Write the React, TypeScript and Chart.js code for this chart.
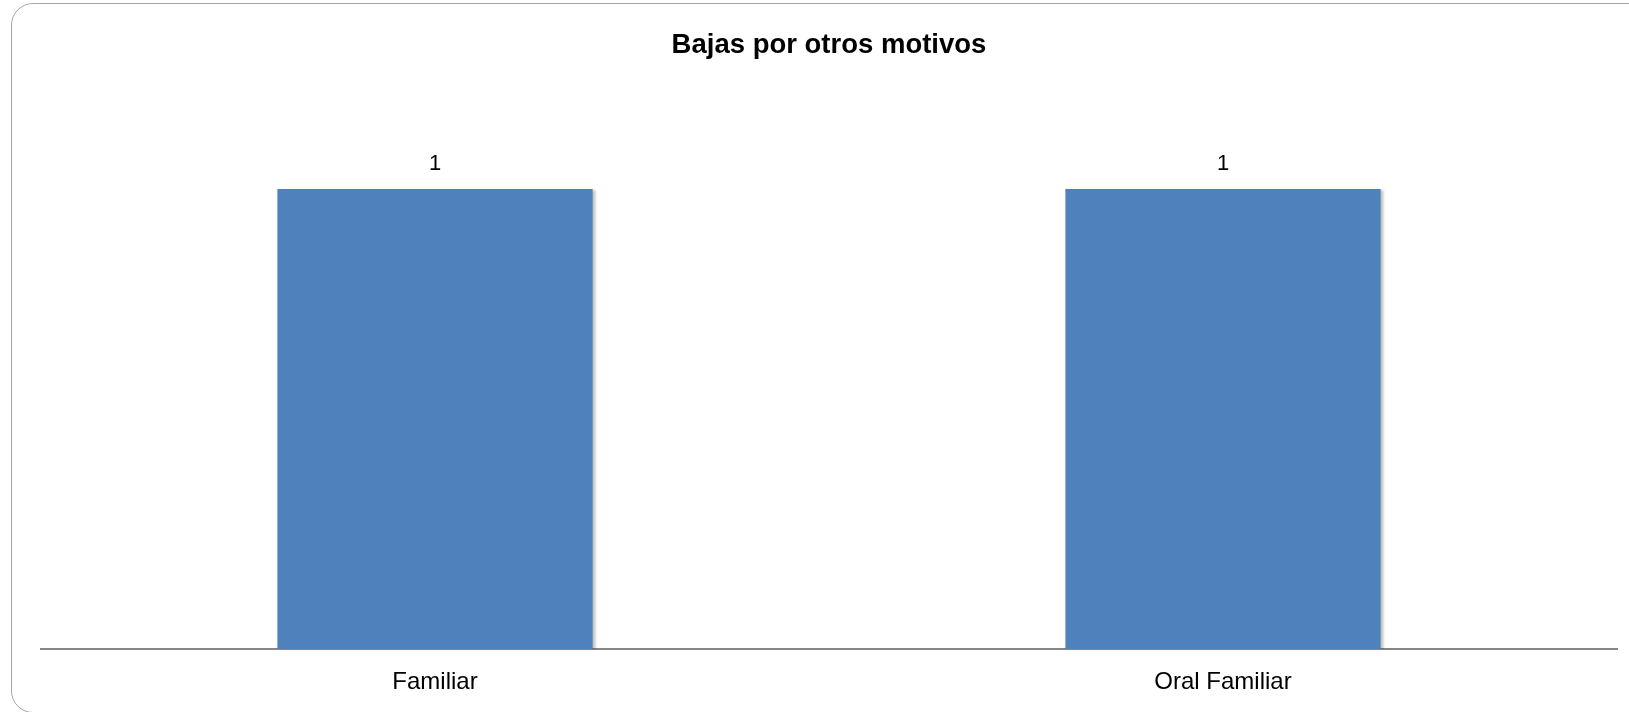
import React, { useEffect, useRef } from "react";
import { Chart, registerables } from "chart.js";

Chart.register(...registerables);

const chartTitle = "Bajas por otros motivos";
const categories = ["Familiar", "Oral Familiar"];
const values = [1, 1];
const yMin = 0;
const yMax = 1;

const FONT = "'Liberation Sans', Arial, sans-serif";

const overlayPlugin = {
  id: "overlay",
  beforeDatasetsDraw(chart: any) {
    const ctx = chart.ctx;
    ctx.save();
    ctx.shadowColor = "rgba(0,0,0,0.28)";
    ctx.shadowBlur = 3;
    ctx.shadowOffsetX = 2;
    ctx.shadowOffsetY = 1;
  },
  afterDatasetsDraw(chart: any) {
    const ctx = chart.ctx;
    ctx.restore();
    ctx.save();
    ctx.fillStyle = "#000000";
    ctx.font = `22px ${FONT}`;
    ctx.textAlign = "center";
    ctx.textBaseline = "alphabetic";
    const meta = chart.getDatasetMeta(0);
    meta.data.forEach((bar: any, i: number) => {
      ctx.fillText(String(values[i]), bar.x, bar.y - 19);
    });
    ctx.restore();
  },
  afterDraw(chart: any) {
    const ctx = chart.ctx;
    const area = chart.chartArea;
    ctx.save();
    ctx.fillStyle = "#000000";
    ctx.font = `bold 27.5px ${FONT}`;
    ctx.textAlign = "center";
    ctx.textBaseline = "alphabetic";
    ctx.fillText(chartTitle, (area.left + area.right) / 2, 53);
    ctx.restore();
  },
};

export default function App() {
  const canvasRef = useRef<HTMLCanvasElement | null>(null);

  useEffect(() => {
    const canvas = canvasRef.current;
    if (!canvas) return;
    const chart = new Chart(canvas, {
      type: "bar",
      data: {
        labels: categories,
        datasets: [
          {
            data: values,
            backgroundColor: "#4F81BD",
            borderColor: "#4F81BD",
            borderWidth: 0,
            barPercentage: 0.4,
            categoryPercentage: 1,
          },
        ],
      },
      options: {
        animation: false,
        responsive: false,
        maintainAspectRatio: false,
        devicePixelRatio: 1,
        layout: { padding: { left: 41, right: 12, top: 189, bottom: 0 } },
        plugins: {
          legend: { display: false },
          title: { display: false },
          tooltip: { enabled: false },
        },
        scales: {
          x: {
            grid: { display: false, drawTicks: false },
            border: { display: true, color: "#868686", width: 2 },
            ticks: {
              color: "#000000",
              font: { family: FONT, size: 24 },
              padding: 19,
              maxRotation: 0,
              autoSkip: false,
            },
            afterFit: (scale: any) => {
              scale.height = 63;
            },
          },
          y: {
            display: false,
            min: yMin,
            max: yMax,
          },
        },
      },
      plugins: [overlayPlugin],
    });
    return () => chart.destroy();
  }, []);

  return (
    <div
      style={{
        position: "fixed",
        left: 0,
        top: 0,
        width: 1629,
        height: 712,
        overflow: "hidden",
        background: "#ffffff",
      }}
    >
      <div
        style={{
          position: "absolute",
          left: 11,
          top: 3,
          width: 1640,
          height: 710,
          border: "1.5px solid #a6a6a6",
          borderRadius: 22,
          boxSizing: "border-box",
        }}
      />
      <canvas
        ref={canvasRef}
        width={1629}
        height={712}
        style={{ position: "absolute", left: 0, top: 0, width: 1629, height: 712 }}
      />
    </div>
  );
}
